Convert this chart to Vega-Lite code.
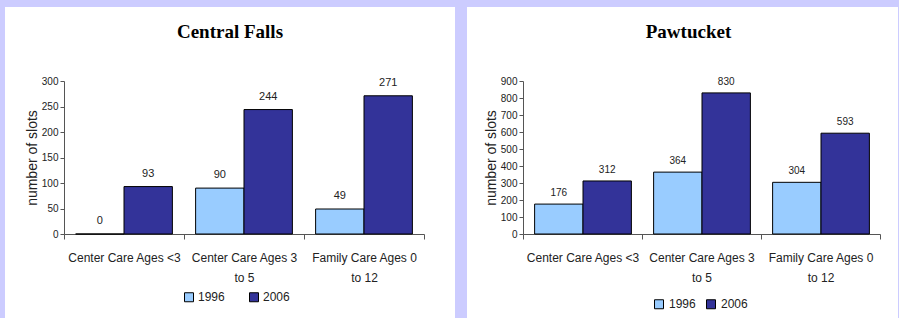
{
  "$schema": "https://vega.github.io/schema/vega-lite/v6.json",
  "background": "#CCCCFF",
  "padding": {"top": 7, "left": 5, "right": 1, "bottom": 0},
  "spacing": 12,
  "datasets": {
    "cf": [
      {"category": "Center Care Ages <3", "year": "1996", "slots": 0},
      {"category": "Center Care Ages <3", "year": "2006", "slots": 93},
      {"category": "Center Care Ages 3 to 5", "year": "1996", "slots": 90},
      {"category": "Center Care Ages 3 to 5", "year": "2006", "slots": 244},
      {"category": "Family Care Ages 0 to 12", "year": "1996", "slots": 49},
      {"category": "Family Care Ages 0 to 12", "year": "2006", "slots": 271}
    ],
    "pw": [
      {"category": "Center Care Ages <3", "year": "1996", "slots": 176},
      {"category": "Center Care Ages <3", "year": "2006", "slots": 312},
      {"category": "Center Care Ages 3 to 5", "year": "1996", "slots": 364},
      {"category": "Center Care Ages 3 to 5", "year": "2006", "slots": 830},
      {"category": "Family Care Ages 0 to 12", "year": "1996", "slots": 304},
      {"category": "Family Care Ages 0 to 12", "year": "2006", "slots": 593}
    ]
  },
  "hconcat": [
    {
      "width": 450,
      "height": 311,
      "data": {"name": "cf"},
      "title": {"text": "Central Falls", "font": "Liberation Serif", "fontSize": 19, "fontWeight": "bold", "color": "#000000", "offset": -35, "anchor": "middle", "frame": "group"},
      "encoding": {
        "x": {
          "field": "category", "type": "nominal",
          "sort": ["Center Care Ages <3", "Center Care Ages 3 to 5", "Family Care Ages 0 to 12"],
          "scale": {"range": [59, 419], "paddingInner": 0, "paddingOuter": 0},
          "axis": {"title": null, "labelAngle": 0, "offset": -84, "tickBand": "extent", "tickSize": 5, "labelFontSize": 12, "labelLineHeight": 20, "labelPadding": 13, "labelColor": "#222222", "domainColor": "#555555", "tickColor": "#555555",
            "labelExpr": "datum.value == 'Center Care Ages 3 to 5' ? ['Center Care Ages 3', 'to 5'] : datum.value == 'Family Care Ages 0 to 12' ? ['Family Care Ages 0', 'to 12'] : datum.value"}
        },
        "xOffset": {"field": "year", "type": "nominal", "scale": {"paddingInner": 0, "paddingOuter": 0.24}},
        "y": {
          "field": "slots", "type": "quantitative",
          "scale": {"domain": [0, 300], "range": [227, 74], "nice": false},
          "axis": {"title": "number of slots", "values": [0, 50, 100, 150, 200, 250, 300], "offset": -59, "grid": false, "tickSize": 4, "labelFontSize": 10, "labelPadding": 2, "labelColor": "#222222", "titleFontSize": 14, "titleFontWeight": "normal", "titleColor": "#222222", "titlePadding": 2, "domainColor": "#555555", "tickColor": "#555555"}
        }
      },
      "layer": [
        {
          "mark": {"type": "bar", "stroke": "#000000", "strokeWidth": 1},
          "encoding": {
            "color": {
              "field": "year", "type": "nominal",
              "scale": {"domain": ["1996", "2006"], "range": ["#99CCFF", "#333399"]},
              "legend": {"orient": "none", "legendX": 178, "legendY": 284, "direction": "horizontal", "title": null, "padding": 0, "symbolType": "square", "symbolSize": 81, "labelFontSize": 12, "labelColor": "#222222", "columnPadding": 22, "labelOffset": 3, "symbolStrokeColor": "#000000", "symbolStrokeWidth": 1, "symbolOpacity": 1}
            }
          }
        },
        {
          "mark": {"type": "text", "baseline": "alphabetic", "dy": -10, "fontSize": 11, "color": "#222222"},
          "encoding": {"text": {"field": "slots", "type": "quantitative"}}
        }
      ]
    },
    {
      "width": 431,
      "height": 311,
      "data": {"name": "pw"},
      "title": {"text": "Pawtucket", "font": "Liberation Serif", "fontSize": 19, "fontWeight": "bold", "color": "#000000", "offset": -35, "anchor": "middle", "frame": "group", "dx": 6},
      "encoding": {
        "x": {
          "field": "category", "type": "nominal",
          "sort": ["Center Care Ages <3", "Center Care Ages 3 to 5", "Family Care Ages 0 to 12"],
          "scale": {"range": [56, 413], "paddingInner": 0, "paddingOuter": 0},
          "axis": {"title": null, "labelAngle": 0, "offset": -84, "tickBand": "extent", "tickSize": 5, "labelFontSize": 12, "labelLineHeight": 20, "labelPadding": 13, "labelColor": "#222222", "domainColor": "#555555", "tickColor": "#555555",
            "labelExpr": "datum.value == 'Center Care Ages 3 to 5' ? ['Center Care Ages 3', 'to 5'] : datum.value == 'Family Care Ages 0 to 12' ? ['Family Care Ages 0', 'to 12'] : datum.value"}
        },
        "xOffset": {"field": "year", "type": "nominal", "scale": {"paddingInner": 0, "paddingOuter": 0.25}},
        "y": {
          "field": "slots", "type": "quantitative",
          "scale": {"domain": [0, 900], "range": [227, 74], "nice": false},
          "axis": {"title": "number of slots", "values": [0, 100, 200, 300, 400, 500, 600, 700, 800, 900], "offset": -56, "grid": false, "tickSize": 4, "labelFontSize": 10, "labelPadding": 2, "labelColor": "#222222", "titleFontSize": 14, "titleFontWeight": "normal", "titleColor": "#222222", "titlePadding": 2, "domainColor": "#555555", "tickColor": "#555555"}
        }
      },
      "layer": [
        {
          "mark": {"type": "bar", "stroke": "#000000", "strokeWidth": 1},
          "encoding": {
            "color": {
              "field": "year", "type": "nominal",
              "scale": {"domain": ["1996", "2006"], "range": ["#99CCFF", "#333399"]},
              "legend": {"orient": "none", "legendX": 186, "legendY": 291, "direction": "horizontal", "title": null, "padding": 0, "symbolType": "square", "symbolSize": 81, "labelFontSize": 12, "labelColor": "#222222", "columnPadding": 8, "labelOffset": 4, "symbolStrokeColor": "#000000", "symbolStrokeWidth": 1, "symbolOpacity": 1}
            }
          }
        },
        {
          "mark": {"type": "text", "baseline": "alphabetic", "dy": -8, "fontSize": 10, "color": "#222222"},
          "encoding": {"text": {"field": "slots", "type": "quantitative"}}
        }
      ]
    }
  ],
  "resolve": {"scale": {"color": "independent"}, "legend": {"color": "independent"}},
  "config": {
    "font": "Liberation Sans",
    "view": {"fill": "#FFFFFF", "stroke": null}
  }
}
